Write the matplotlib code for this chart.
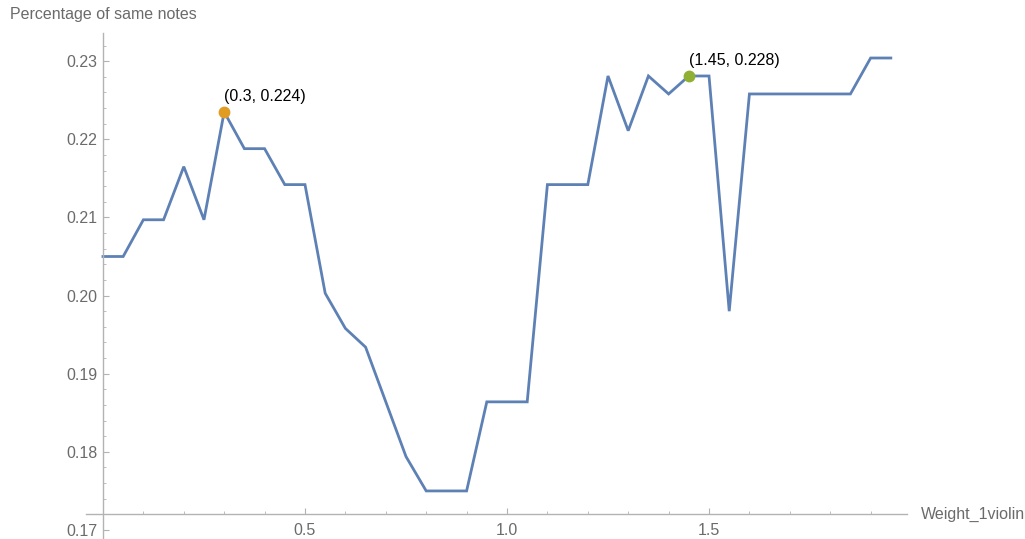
import numpy as np
import matplotlib
matplotlib.use('Agg')
import matplotlib.pyplot as plt
from matplotlib.ticker import MultipleLocator, FixedLocator

# data
weights = [0.0, 0.05, 0.1, 0.15, 0.2, 0.25, 0.3, 0.35, 0.4, 0.45,
           0.5, 0.55, 0.6, 0.65, 0.7, 0.75, 0.8, 0.85, 0.9, 0.95,
           1.0, 1.05, 1.1, 1.15, 1.2, 1.25, 1.3, 1.35, 1.4, 1.45,
           1.5, 1.55, 1.6, 1.65, 1.7, 1.75, 1.8, 1.85, 1.9, 1.95]
same_notes = [0.2050, 0.2050, 0.2097, 0.2097, 0.2165, 0.2097, 0.2235, 0.2188, 0.2188, 0.2142,
              0.2142, 0.2003, 0.1958, 0.1934, 0.1864, 0.1794, 0.1750, 0.1750, 0.1750, 0.1864,
              0.1864, 0.1864, 0.2142, 0.2142, 0.2142, 0.2281, 0.2211, 0.2281, 0.2258, 0.2281,
              0.2281, 0.1980, 0.2258, 0.2258, 0.2258, 0.2258, 0.2258, 0.2258, 0.2304, 0.2304]
best_points = [(0.3, 0.2235, '(0.3, 0.224)', '#E19C24'),
               (1.45, 0.2281, '(1.45, 0.228)', '#8FB032')]

plt.rcParams['font.family'] = ['Liberation Sans', 'DejaVu Sans']
gray = '#6b6b6b'
axis_gray = '#b3b3b3'

fig = plt.figure(figsize=(10.25, 5.39), dpi=100)
ax = fig.add_axes([86 / 1025, 0.0, (907 - 86) / 1025, (539 - 33) / 539])

ax.plot(weights, same_notes, color='#5E81B5', linewidth=2.0, solid_joinstyle='miter')
for x, y, txt, c in best_points:
    ax.plot([x], [y], 'o', color=c, markersize=7.5, zorder=5)
    ax.annotate(txt, (x, y), xytext=(0, 6), textcoords='offset points',
                ha='left', va='bottom', fontsize=11.5, color='black')

ax.set_xlim(-0.042, 1.990)
ax.set_ylim(0.16885, 0.2336)

for s in ['top', 'right']:
    ax.spines[s].set_visible(False)
ax.spines['left'].set_position(('data', 0))
ax.spines['bottom'].set_position(('data', 0.172))
ax.spines['left'].set_color(axis_gray)
ax.spines['bottom'].set_color(axis_gray)
ax.spines['left'].set_linewidth(1.0)
ax.spines['bottom'].set_linewidth(1.0)

ax.xaxis.set_major_locator(FixedLocator([0.5, 1.0, 1.5]))
ax.xaxis.set_minor_locator(FixedLocator([0.1, 0.2, 0.3, 0.4, 0.6, 0.7, 0.8, 0.9,
                                         1.1, 1.2, 1.3, 1.4, 1.6, 1.7, 1.8, 1.9]))
ax.yaxis.set_major_locator(MultipleLocator(0.01))
ax.yaxis.set_minor_locator(MultipleLocator(0.002))
ax.xaxis.set_major_formatter(plt.FuncFormatter(lambda v, p: f'{v:.1f}'))
ax.yaxis.set_major_formatter(plt.FuncFormatter(lambda v, p: f'{v:.2f}'))

ax.tick_params(axis='both', which='major', direction='in', length=4, width=0.8,
               color=axis_gray, labelcolor=gray, labelsize=11.5)
ax.tick_params(axis='both', which='minor', direction='in', length=2.5, width=0.6,
               color=axis_gray)
ax.tick_params(axis='x', which='major', pad=6)
ax.tick_params(axis='y', which='major', pad=4)

fig.text(10 / 1025, 1 - 14 / 539, 'Percentage of same notes', fontsize=11.5,
         color=gray, ha='left', va='center')
ax.annotate('Weight_1violin', xy=(1.0, 0.172), xycoords=('axes fraction', 'data'),
            xytext=(10, 0), textcoords='offset points', fontsize=11.5, color=gray,
            ha='left', va='center', annotation_clip=False)

fig.savefig('out.png', dpi=100)
